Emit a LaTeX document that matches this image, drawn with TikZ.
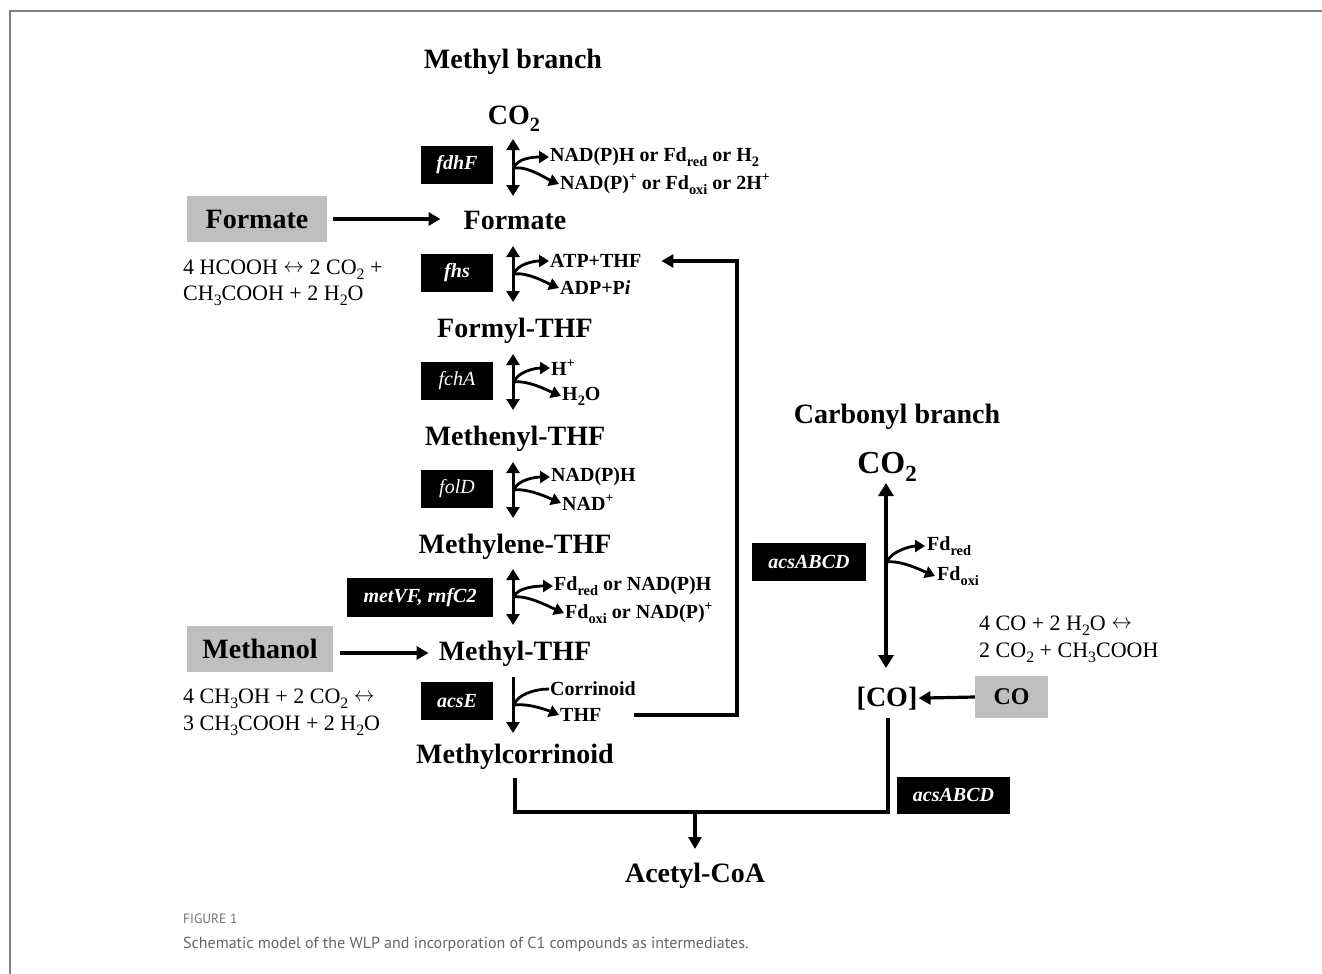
\documentclass[tikz,border=0pt]{standalone}
\usepackage{fontspec}
\setmainfont{Liberation Serif}
\newfontfamily\capfont{PT Sans}
\usetikzlibrary{arrows.meta}
\newcommand\lo[1]{\raisebox{-0.55ex}{\scalebox{0.72}{#1}}}
\newcommand\up[1]{\raisebox{0.85ex}{\scalebox{0.68}{#1}}}
\newcommand\lrarr{\raisebox{0.1ex}{$\leftrightarrow$}}
\begin{document}
\begin{tikzpicture}[x=1pt,y=-1pt,
  conn/.style={line width=3.2pt},
  arr/.style={line width=3.2pt,-{Triangle[length=12pt,width=13pt]}},
  darr/.style={line width=3pt,{Triangle[length=11pt,width=13pt]}-{Triangle[length=11pt,width=13pt]}},
  dbig/.style={line width=3.2pt,{Triangle[length=13pt,width=15pt]}-{Triangle[length=13pt,width=15pt]}},
  sarr/.style={line width=3pt,-{Triangle[length=11pt,width=13pt]}},
  carr/.style={line width=2.8pt,-{Triangle[length=10pt,width=12pt]}},
  cline/.style={line width=2.8pt},
  metab/.style={anchor=base,inner sep=0pt,font=\bfseries\fontsize{28}{30}\selectfont},
  gene/.style={fill=black,text=white,minimum width=72pt,minimum height=38pt,inner sep=0pt,font=\itshape\fontsize{20}{22}\selectfont},
  geneb/.style={gene,font=\bfseries\itshape\fontsize{20}{22}\selectfont},
  lbl/.style={anchor=west,inner sep=0pt,font=\bfseries\fontsize{20}{22}\selectfont},
  eq/.style={anchor=base west,inner sep=0pt,font=\fontsize{22}{26}\selectfont},
  subst/.style={fill=black!25,inner sep=0pt,font=\bfseries\fontsize{28}{30}\selectfont}
]
\useasboundingbox (0,0) rectangle (1322,974);
\fill[white] (0,0) rectangle (1322,974);
% frame
\draw[black!50,line width=1.4pt] (10,974) -- (10,11) -- (1322,11);

% ---- methyl branch metabolites
\node[metab] (mb) at (513,68) {Methyl branch};
\node[metab] (co2m) at (514,124) {CO\lo{2}};
\node[metab] (for) at (515,229) {Formate};
\node[metab] (fthf) at (515,337) {Formyl-THF};
\node[metab] (menthf) at (515,445) {Methenyl-THF};
\node[metab] (mlthf) at (515,553) {Methylene-THF};
\node[metab] (mthf) at (515,660) {Methyl-THF};
\node[metab] (mc) at (515,763) {Methylcorrinoid};
\node[metab] (acoa) at (695,882) {Acetyl-CoA};

% ---- genes
\node[geneb] (fdhF) at (457,165) {fdhF};
\node[geneb] (fhs) at (457,273) {fhs};
\node[gene] (fchA) at (457,381) {fchA};
\node[gene] (folD) at (457,489) {folD};
\node[geneb,minimum width=146pt,minimum height=39pt] (metVF) at (420,597.5) {metVF, rnfC2};
\node[geneb] (acsE) at (457,701) {acsE};
\node[geneb,minimum width=114pt] (acs1) at (809,562) {acsABCD};
\node[geneb,minimum width=113pt,minimum height=37pt] (acs2) at (953.5,795) {acsABCD};

% ---- substrates
\node[subst,minimum width=140pt,minimum height=46pt] (fbox) at (257,219) {Formate};
\node[subst,minimum width=146pt,minimum height=46pt] (mbox) at (260,649) {Methanol};
\node[subst,minimum width=73pt,minimum height=42pt,font=\bfseries\fontsize{24}{26}\selectfont] (cobox) at (1011.5,697) {CO};

% ---- equations
\node[eq] (e1a) at (183,274) {4 HCOOH \lrarr{} 2 CO\lo{2} +};
\node[eq] (e1b) at (183,300) {CH\lo{3}COOH + 2 H\lo{2}O};
\node[eq] (e2a) at (183,703) {4 CH\lo{3}OH + 2 CO\lo{2} \lrarr};
\node[eq] (e2b) at (183,730) {3 CH\lo{3}COOH + 2 H\lo{2}O};
\node[eq] (e3a) at (979,630) {4 CO + 2 H\lo{2}O \lrarr};
\node[eq] (e3b) at (979,657) {2 CO\lo{2} + CH\lo{3}COOH};

% ---- side labels
\node[lbl] (s1u) at (550,157) {NAD(P)H or Fd\lo{red} or H\lo{2}};
\node[lbl] (s1l) at (560,184) {NAD(P)\up{+} or Fd\lo{oxi} or 2H\up{+}};
\node[lbl] (s2u) at (550,261) {ATP+THF};
\node[lbl] (s2l) at (560,288) {ADP+P\textit{i}};
\node[lbl] (s3u) at (551,368) {H\up{+}};
\node[lbl] (s3l) at (562,396) {H\lo{2}O};
\node[lbl] (s4u) at (551,477) {NAD(P)H};
\node[lbl] (s4l) at (562,503) {NAD\up{+}};
\node[lbl] (s5u) at (554,586) {Fd\lo{red} or NAD(P)H};
\node[lbl] (s5l) at (565,613) {Fd\lo{oxi} or NAD(P)\up{+}};
\node[lbl] (s6u) at (550,689) {Corrinoid};
\node[lbl] (s6l) at (560,715) {THF};

% ---- step arrows (methyl branch)
\coordinate (a1t) at (513,139); \coordinate (a1b) at (513,196); \coordinate (j1) at (514,168);
\coordinate (a2t) at (513,246); \coordinate (a2b) at (513,302); \coordinate (j2) at (514,274);
\coordinate (a3t) at (513,354); \coordinate (a3b) at (513,410); \coordinate (j3) at (514,382);
\coordinate (a4t) at (513,462); \coordinate (a4b) at (513,518); \coordinate (j4) at (514,490);
\coordinate (a5t) at (513,569); \coordinate (a5b) at (513,625); \coordinate (j5) at (514,597);
\coordinate (a6t) at (513,677); \coordinate (a6b) at (513,733); \coordinate (j6) at (514,705);
\foreach \i in {1,...,5}{
  \draw[darr] (a\i t) -- (a\i b);
  \draw[carr] (j\i) .. controls +(3,-10) and +(-15,0) .. ([xshift=-1pt]s\i u.west);
  \draw[carr] (j\i) .. controls +(14,-2) and +(-12,-5) .. ([xshift=-1pt]s\i l.west);
}
\draw[sarr] (a6t) -- (a6b);
\draw[cline] (j6) .. controls +(3,-10) and +(-15,0) .. ([xshift=-1pt]s6u.west);
\draw[carr] (j6) .. controls +(14,-2) and +(-12,-5) .. ([xshift=-1pt]s6l.west);

% substrate inputs
\draw[arr] ([xshift=6pt]fbox.east) -- ([xshift=-23pt]for.west |- fbox.east);
\draw[arr] ([xshift=7pt]mbox.east |- 0,653) -- ([xshift=-10pt]mthf.west |- 0,653);

% THF recycling
\coordinate (rc1) at (737,715);
\coordinate (rc2) at (737,261);
\draw[arr] ([xshift=32pt]s6l.east) -- (rc1) -- (rc2) -- ([xshift=20pt]s2u.east);

% ---- carbonyl branch
\node[metab] (cb) at (897,423) {Carbonyl branch};
\node[metab,font=\bfseries\fontsize{32}{34}\selectfont] (co2c) at (887,473) {CO\lo{2}};
\node[metab] (coi) at (887,706) {[CO]};
\node[lbl] (cu) at (927,546) {Fd\lo{red}};
\node[lbl] (cl) at (937,576) {Fd\lo{oxi}};
\coordinate (ct) at (886,483); \coordinate (cbm) at (886,668); \coordinate (jc) at (887,562);
\draw[dbig] (ct) -- (cbm);
\draw[carr] (jc) .. controls +(3,-10) and +(-15,0) .. ([xshift=-2pt]cu.west);
\draw[carr] (jc) .. controls +(14,-2) and +(-12,-5) .. ([xshift=-2pt]cl.west);
\draw[arr] (cobox.west) -- ([xshift=1pt]coi.east);

% ---- to acetyl-CoA
\coordinate (m1) at (515,778);
\coordinate (m2) at (515,812);
\coordinate (m3) at (888,812);
\coordinate (m4) at (888,718);
\coordinate (jm) at (695,812);
\coordinate (at) at (695,849);
\draw[conn,line join=miter] (m1) -- (m2) -- (m3) -- (m4);
\draw[arr] (jm) -- (at);

% ---- caption
\node[anchor=base west,inner sep=0pt,text=black!55,font=\capfont\fontsize{13.5}{15}\selectfont] (figl) at (183,923) {FIGURE 1};
\node[anchor=base west,inner sep=0pt,text=black!60,font=\capfont\fontsize{16}{19}\selectfont] (cap) at (183,948) {Schematic model of the WLP and incorporation of C1 compounds as intermediates.};
\end{tikzpicture}
\end{document}
